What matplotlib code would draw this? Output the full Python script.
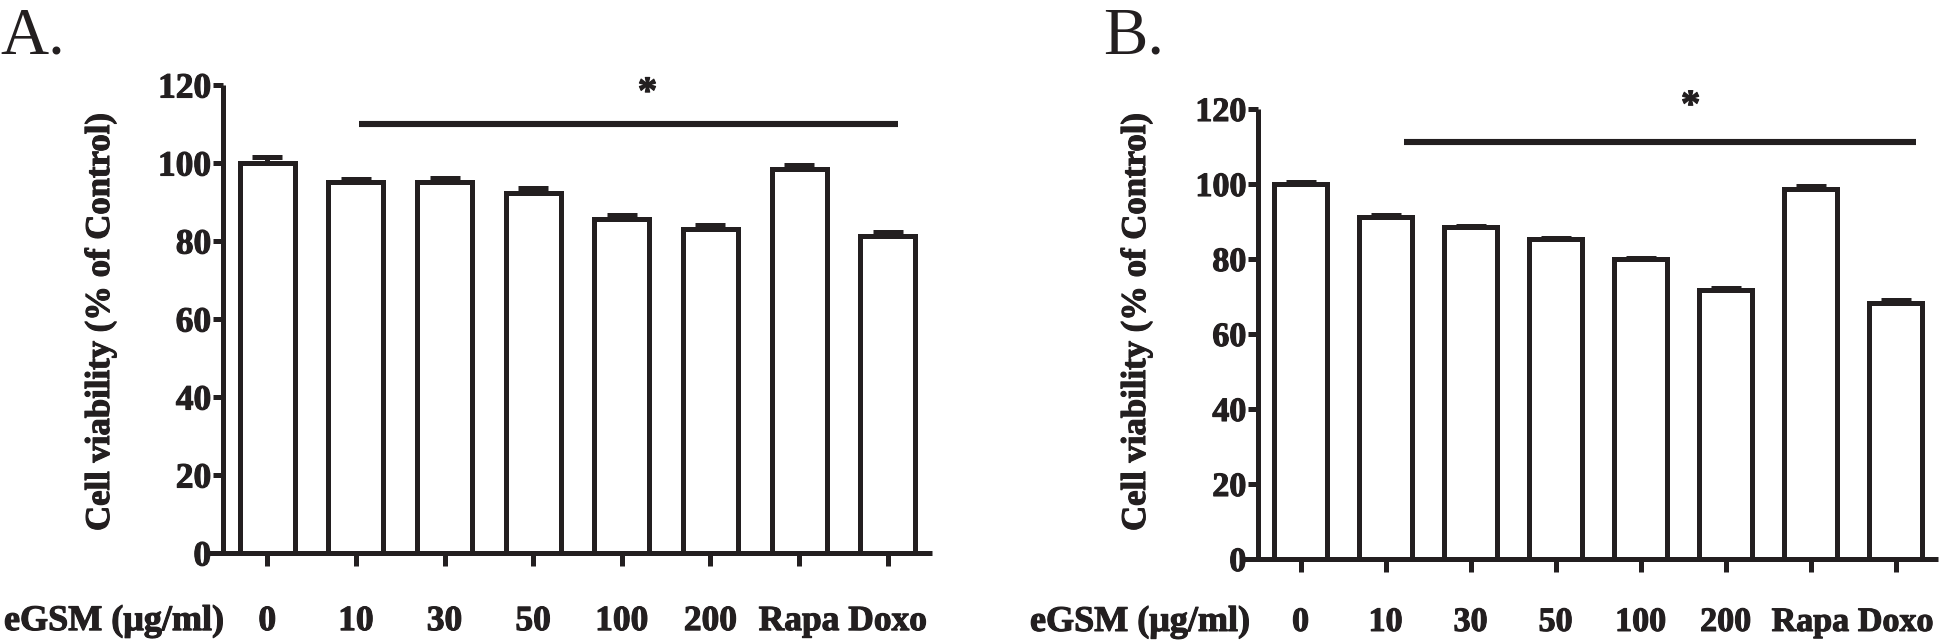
import matplotlib
matplotlib.use("Agg")
import matplotlib.pyplot as plt
from matplotlib import font_manager as fm
from matplotlib import patheffects as pe
import numpy as np

categories = ["0", "10", "30", "50", "100", "200", "Rapa", "Doxo"]
viability_a = [100.0, 95.1, 95.1, 92.4, 85.6, 83.2, 98.5, 81.4]
error_a = [1.5, 0.9, 1.0, 1.1, 1.0, 1.0, 1.0, 0.9]
viability_b = [100.0, 91.3, 88.5, 85.3, 80.0, 71.8, 98.8, 68.3]
error_b = [0.5, 0.5, 0.4, 0.4, 0.3, 0.4, 0.8, 0.9]
yticks = [0, 20, 40, 60, 80, 100, 120]
ylabel = "Cell viability (% of Control)"
xlabel = "eGSM (\u03bcg/ml)"

INK = "#231f20"
HEAVY = [pe.withStroke(linewidth=0.8, foreground=INK)]


def pick_font(bold):
    cands = [f for f in fm.fontManager.ttflist if f.name == "Liberation Serif"
             and f.style == "normal"]
    best = None
    for f in cands:
        w = f.weight if isinstance(f.weight, int) else (700 if "bold" in str(f.weight) else 400)
        if bold and w >= 600:
            best = f
        if not bold and w < 600:
            best = f
    if best is not None:
        return fm.FontProperties(fname=best.fname)
    return fm.FontProperties(family="DejaVu Serif", weight="bold" if bold else "normal")


FB = pick_font(True)
FR = pick_font(False)


def fp(base, size):
    p = base.copy()
    p.set_size(size)
    return p


fig = plt.figure(figsize=(19.52, 6.44), dpi=100)
W, H = 1952, 644


def panel(rect, vals, errs, sig, star, letter_xy, letter, xlab_x, ylab_x, tick_pad,
          tsize):
    ax = fig.add_axes(rect)
    x = np.arange(len(categories))
    ax.bar(x, vals, width=0.62, color="white", edgecolor=INK, linewidth=3.6, zorder=2)
    ax.errorbar(x, vals, yerr=[np.zeros(len(errs)), errs], fmt="none", ecolor=INK,
                elinewidth=3.6, capsize=10.5, capthick=3.6, zorder=3)
    ax.set_xlim(-0.5, 7.5)
    ax.set_ylim(0, 120)
    ax.set_yticks(yticks)
    ax.set_yticklabels([str(t) for t in yticks], fontproperties=fp(FB, tsize), color=INK)
    ax.set_xticks(x)
    ax.set_xticklabels(categories, fontproperties=fp(FB, tsize), color=INK)
    for lab in ax.get_xticklabels() + ax.get_yticklabels():
        lab.set_path_effects(HEAVY)
    for s in ["top", "right"]:
        ax.spines[s].set_visible(False)
    for s in ["left", "bottom"]:
        ax.spines[s].set_linewidth(3.6)
        ax.spines[s].set_color(INK)
        ax.spines[s].set_capstyle("butt")
    ax.spines["bottom"].set_bounds(-0.68, 7.5)
    ax.tick_params(axis="y", length=7.5, width=3.6, color=INK, pad=1)
    ax.tick_params(axis="x", length=9.5, width=3.6, color=INK, pad=tick_pad)
    ax.set_ylabel(ylabel, fontproperties=fp(FB, 25), color=INK, path_effects=HEAVY)
    ax.yaxis.set_label_coords(ylab_x, 0.5, transform=fig.transFigure)
    ax.plot(sig[0:2], [sig[2], sig[2]], color=INK, linewidth=4.4, solid_capstyle="butt",
            clip_on=False, zorder=4)
    ax.text(star[0], star[1], "*", fontproperties=fp(FB, 28), color=INK,
            ha="center", va="center", clip_on=False, path_effects=HEAVY)
    lab0 = ax.get_xticklabels()[0]
    fig.canvas.draw()
    bb = lab0.get_window_extent()
    yc = (bb.y0 + bb.y1) / 2 / H
    fig.text(xlab_x, yc, xlabel, fontproperties=fp(FB, 26), color=INK,
             ha="left", va="center", path_effects=HEAVY)
    fig.text(letter_xy[0], letter_xy[1], letter, fontproperties=fp(FR, 48), color=INK,
             ha="left", va="baseline")
    return ax


panel([223 / W, 1 - 553 / H, 709 / W, 468 / H], viability_a, error_a,
      (1.04, 7.12, 110.0), (4.29, 117.8), (0 / W, 1 - 53 / H), "A.",
      4 / W, 117 / W, 28, 25.5)
panel([1258 / W, 1 - 559 / H, 680 / W, 450 / H], viability_b, error_b,
      (1.22, 7.24, 111.2), (4.59, 120.6), (1103 / W, 1 - 53 / H), "B.",
      1030 / W, 1153 / W, 25, 24.5)

fig.savefig("out.png", dpi=100, facecolor="white")
